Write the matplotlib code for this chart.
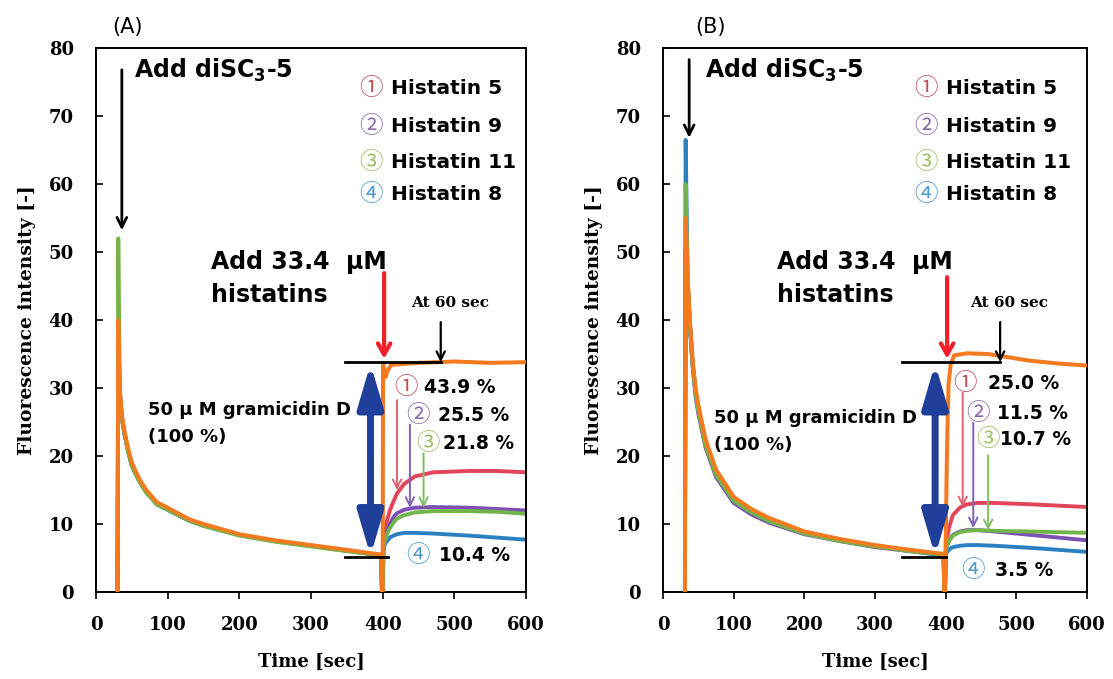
import numpy as np
import matplotlib
matplotlib.use('Agg')
import matplotlib.pyplot as plt

plt.rcParams['font.family'] = ['DejaVu Sans']
plt.rcParams['mathtext.fontset'] = 'dejavusans'

# ---- panel A data (time [sec], fluorescence) ----
a_t1 = [30, 31, 33, 36, 40, 45, 50, 60, 70, 85, 100, 130, 150, 200, 250, 300, 350, 398]
a_orange1 = [0, 40, 30, 26, 23.5, 21, 19, 16.7, 15, 13.2, 12.4, 10.7, 10.0, 8.5, 7.6, 6.9, 6.2, 5.5]
a_red1 = [0, 38, 29.6, 25.7, 23.2, 20.7, 18.7, 16.5, 14.8, 13.0, 12.2, 10.6, 9.8, 8.4, 7.5, 6.8, 6.1, 5.4]
a_purple1 = [0, 38, 29.5, 25.6, 23.1, 20.6, 18.6, 16.4, 14.7, 12.9, 12.1, 10.5, 9.8, 8.4, 7.5, 6.8, 6.1, 5.4]
a_green1 = [0, 52, 29.4, 25.5, 23.0, 20.5, 18.5, 16.3, 14.6, 12.9, 12.1, 10.5, 9.7, 8.3, 7.4, 6.7, 6.0, 5.4]
a_blue1 = [0, 39, 29.5, 25.6, 23.1, 20.6, 18.6, 16.4, 14.7, 12.9, 12.1, 10.5, 9.8, 8.4, 7.5, 6.8, 6.1, 5.4]

a_t2 = [399, 400, 401, 403, 406, 410, 415, 420, 430, 445, 470, 520, 560, 600]
a_red2 = [0, 0, 7, 9, 10.5, 12, 13.3, 14.5, 15.9, 17, 17.6, 17.8, 17.8, 17.6]
a_purple2 = [0, 0, 6.5, 8, 9, 10, 11, 11.6, 12.1, 12.4, 12.5, 12.4, 12.2, 12.0]
a_green2 = [0, 0, 6.5, 7.5, 8.5, 9.4, 10.2, 10.8, 11.3, 11.7, 11.9, 11.9, 11.8, 11.5]
a_blue2 = [0, 0, 6, 7, 7.5, 8, 8.3, 8.5, 8.7, 8.7, 8.6, 8.3, 8.0, 7.7]
a_t2o = [399, 400, 400.5, 402, 404, 407, 412, 450, 500, 550, 600]
a_orange2 = [0, 0, 33.7, 32.6, 31.6, 32.6, 33.4, 33.7, 33.9, 33.7, 33.8]

# ---- panel B data ----
b_t1 = [31, 32, 35, 38, 42, 46, 50, 60, 75, 100, 125, 150, 200, 250, 300, 350, 397]
b_orange1 = [0, 55, 46, 40, 34, 30, 27.5, 22.5, 18, 14, 12.2, 10.9, 8.9, 7.8, 6.9, 6.2, 5.6]
b_red1 = [0, 50, 45.5, 39.5, 33.6, 29.6, 27.0, 22.0, 17.6, 13.7, 12.0, 10.7, 8.8, 7.7, 6.8, 6.1, 5.5]
b_purple1 = [0, 50, 45, 39, 33, 28.8, 26.2, 21.3, 16.9, 13.1, 11.4, 10.2, 8.5, 7.5, 6.6, 6.0, 5.4]
b_green1 = [0, 60, 45.2, 39.2, 33.3, 29.2, 26.6, 21.6, 17.2, 13.4, 11.7, 10.4, 8.6, 7.5, 6.7, 6.0, 5.5]
b_blue1 = [0, 66.5, 45.5, 39.5, 33.5, 29.5, 27.0, 22.0, 17.5, 13.6, 11.9, 10.6, 8.7, 7.6, 6.8, 6.1, 5.3]

b_t2 = [398, 399, 400, 402, 405, 410, 420, 430, 445, 470, 520, 560, 600]
b_red2 = [0, 0, 6, 8, 9.6, 11.3, 12.4, 12.9, 13.1, 13.1, 12.9, 12.7, 12.5]
b_purple2 = [0, 0, 5.8, 6.8, 7.6, 8.4, 8.9, 9.1, 9.1, 8.9, 8.4, 8.0, 7.6]
b_green2 = [0, 0, 5.9, 6.9, 7.6, 8.3, 8.8, 9.0, 9.1, 9.0, 8.9, 8.8, 8.7]
b_blue2 = [0, 0, 5.5, 5.9, 6.3, 6.6, 6.8, 6.9, 6.9, 6.8, 6.5, 6.2, 5.9]
b_t2o = [398, 399, 400, 402, 404, 407, 412, 430, 460, 490, 520, 560, 600]
b_orange2 = [0, 0, 8, 22, 30.5, 33.5, 34.8, 35.1, 35, 34.5, 34, 33.6, 33.3]

names = ['Histatin 5', 'Histatin 9', 'Histatin 11', 'Histatin 8']
marks = ['\u2460', '\u2461', '\u2462', '\u2463']
pct_a = ['43.9 %', '25.5 %', '21.8 %', '10.4 %']
pct_b = ['25.0 %', '11.5 %', '10.7 %', '3.5 %']

line_col = {'red': '#e2445a', 'purple': '#7b52b3', 'green': '#72b44a',
            'blue': '#2b80c3', 'orange': '#f47a20'}
mark_col = ['#c0505a', '#8a6aaa', '#9cc060', '#4a9ccc']
thin_col = ['#e0606e', '#8060b8', '#80c060']

fig = plt.figure(figsize=(11.13, 6.79), dpi=100)
axA = fig.add_axes([0.0863, 0.1281, 0.3863, 0.8012])
axB = fig.add_axes([0.5957, 0.1281, 0.3810, 0.8012])

circ_font = ['Noto Sans CJK JP', 'DejaVu Sans']


def draw_panel(ax, t1, d1, t2, d2, t2o, o2, order, pct, lay):
    for key in order:
        ax.plot(list(t1) + list(t2), list(d1[key]) + list(d2[key]),
                color=line_col[key], lw=2.8, solid_joinstyle='round', zorder=2)
    ax.plot(list(t1) + list(t2o), list(d1['orange']) + list(o2),
            color=line_col['orange'], lw=2.9, zorder=3)

    ax.set_xlim(0, 600)
    ax.set_ylim(0, 80)
    ax.set_xticks(np.arange(0, 601, 100))
    ax.set_yticks(np.arange(0, 81, 10))
    ax.tick_params(axis='y', direction='in', length=5, width=1.2, pad=16)
    ax.tick_params(axis='x', direction='out', length=5, width=1.2, pad=12)
    for lab in ax.get_xticklabels() + ax.get_yticklabels():
        lab.set_fontfamily('DejaVu Serif')
        lab.set_fontweight('bold')
        lab.set_fontsize(13)
    for s in ax.spines.values():
        s.set_linewidth(1.4)
    ax.set_xlabel('Time [sec]', family='DejaVu Serif', weight='bold', fontsize=13, labelpad=14)
    ax.set_ylabel('Fluorescence intensity [-]', family='DejaVu Serif', weight='bold',
                  fontsize=13.5, labelpad=9)

    # dye addition
    ax.text(lay['dye_x'], 76.7, r'Add diSC$_\mathbf{3}$-5', fontsize=17, weight='bold',
            va='center', ha='left')
    ax.annotate('', xy=(lay['dye_arr'][0], lay['dye_arr'][2]), xytext=(lay['dye_arr'][0], lay['dye_arr'][1]),
                arrowprops=dict(arrowstyle='->,head_length=0.7,head_width=0.35', color='black',
                                lw=2, shrinkA=0, shrinkB=0))

    # legend
    ys = [74.0, 68.4, 63.2, 58.5]
    for i in range(4):
        ax.text(lay['leg_c'], ys[i], marks[i], color=mark_col[i], family=circ_font,
                fontsize=17, ha='center', va='center')
        ax.text(lay['leg_t'], ys[i], names[i], fontsize=14.5, weight='bold',
                ha='left', va='center')

    # histatin addition
    ax.text(161, 48.5, 'Add 33.4  \u03bcM', fontsize=17, weight='bold', ha='left', va='center')
    ax.text(161, 43.7, 'histatins', fontsize=17, weight='bold', ha='left', va='center')
    ax.annotate('', xy=(402, 34.3), xytext=(402, lay['red_top']),
                arrowprops=dict(arrowstyle='->,head_length=0.8,head_width=0.45', color='#f0202a',
                                lw=3, shrinkA=0, shrinkB=0))
    ax.text(lay['at60'], 42.5, 'At 60 sec', family='DejaVu Serif', weight='bold',
            fontsize=11, ha='center', va='center')
    ax.annotate('', xy=(lay['blk'], 33.8), xytext=(lay['blk'], 39.7),
                arrowprops=dict(arrowstyle='->,head_length=0.6,head_width=0.3', color='black',
                                lw=1.6, shrinkA=0, shrinkB=0))

    # 100 % reference
    ax.plot([lay['h0'], lay['blk']], [33.8, 33.8], color='black', lw=2, zorder=4)
    ax.plot([lay['h0'], lay['h1']], [5.1, 5.1], color='black', lw=2, zorder=4)
    ax.annotate('', xy=(lay['dbl'], 33.6), xytext=(lay['dbl'], 5.3),
                arrowprops=dict(arrowstyle='<|-|>,head_length=1.3,head_width=0.38',
                                mutation_scale=20, color='#1f3f9a', lw=5,
                                shrinkA=0, shrinkB=0), zorder=5)
    ax.text(lay['gram'][0], lay['gram'][1], '50 \u03bc M gramicidin D', fontsize=13,
            weight='bold', ha='left', va='center')
    ax.text(lay['gram'][0], lay['gram'][1] - 4, '(100 %)', fontsize=13,
            weight='bold', ha='left', va='center')

    # percentages
    for i in range(4):
        cx, cy, tx = lay['pct'][i]
        ax.text(cx, cy, marks[i], color=mark_col[i], family=circ_font, fontsize=17,
                ha='center', va='center', zorder=6)
        ax.text(tx, cy, pct[i], fontsize=13.5, weight='bold', ha='left', va='center', zorder=6)
    for i in range(3):
        x, y0, y1 = lay['thin'][i]
        ax.annotate('', xy=(x, y1), xytext=(x, y0),
                    arrowprops=dict(arrowstyle='->,head_length=0.6,head_width=0.3',
                                    color=thin_col[i], lw=1.4, shrinkA=0, shrinkB=0))


dA1 = {'red': a_red1, 'purple': a_purple1, 'green': a_green1, 'blue': a_blue1, 'orange': a_orange1}
dA2 = {'red': a_red2, 'purple': a_purple2, 'green': a_green2, 'blue': a_blue2}
dB1 = {'red': b_red1, 'purple': b_purple1, 'green': b_green1, 'blue': b_blue1, 'orange': b_orange1}
dB2 = {'red': b_red2, 'purple': b_purple2, 'green': b_green2, 'blue': b_blue2}

layA = dict(dye_x=53, dye_arr=(36, 76.8, 53.2), leg_c=384, leg_t=411, red_top=46.9,
            at60=494, blk=481, h0=347, h1=408, dbl=383, gram=(73, 26.8),
            pct=[(432, 30.1, 457), (450, 26.0, 477), (464, 21.8, 484), (450, 5.4, 478)],
            thin=[(420, 28.2, 15.0), (438, 24.6, 12.4), (457, 20.4, 12.4)])
layB = dict(dye_x=59, dye_arr=(37, 78.3, 66.8), leg_c=372, leg_t=401, red_top=46.3,
            at60=490, blk=477, h0=338, h1=400, dbl=385, gram=(72, 25.6),
            pct=[(428, 30.7, 460), (446, 26.3, 473), (460, 22.4, 477), (439, 3.2, 470)],
            thin=[(424, 29.3, 12.5), (439, 24.9, 9.4), (460, 20.1, 9.1)])

draw_panel(axA, a_t1, dA1, a_t2, dA2, a_t2o, a_orange2,
           ['red', 'purple', 'blue', 'green'], pct_a, layA)
draw_panel(axB, b_t1, dB1, b_t2, dB2, b_t2o, b_orange2,
           ['red', 'purple', 'blue', 'green'], pct_b, layB)

fig.text(0.115, 0.960, '(A)', fontsize=15, ha='center', va='center')
fig.text(0.638, 0.960, '(B)', fontsize=15, ha='center', va='center')

fig.savefig('out.png', dpi=100, facecolor='white')
